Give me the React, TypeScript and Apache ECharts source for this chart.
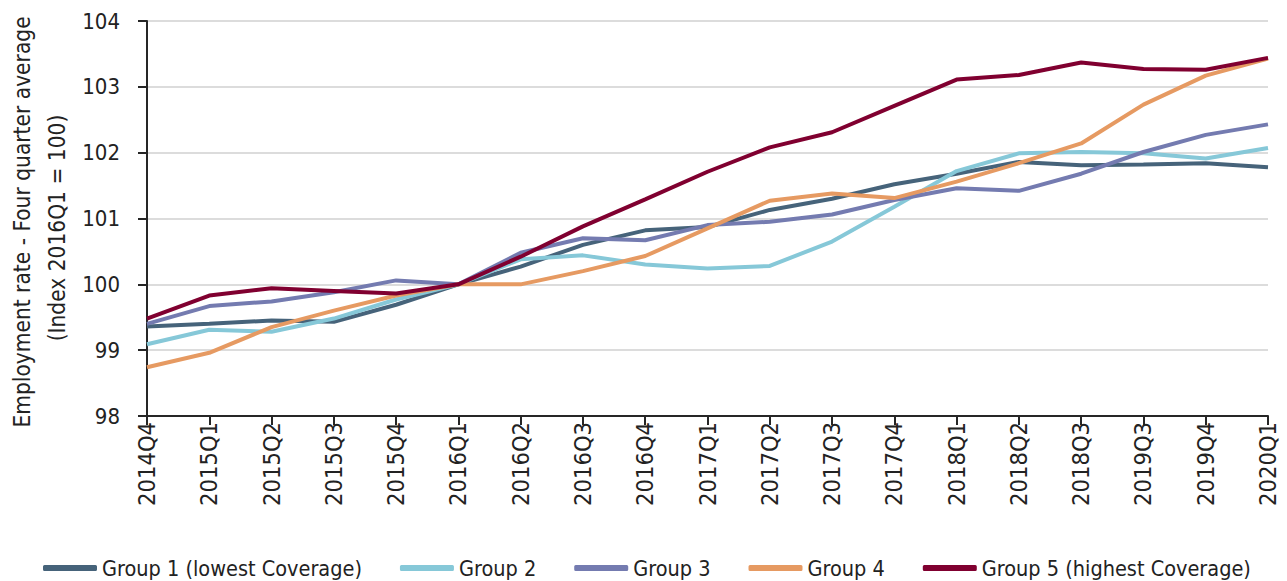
import React, { useEffect, useRef } from "react";
import * as echarts from "echarts";

const categories = [
  "2014Q4", "2015Q1", "2015Q2", "2015Q3", "2015Q4", "2016Q1", "2016Q2", "2016Q3", "2016Q4",
  "2017Q1", "2017Q2", "2017Q3", "2017Q4", "2018Q1", "2018Q2", "2018Q3", "2019Q3", "2019Q4", "2020Q1",
];

const group1 = [99.36, 99.40, 99.45, 99.43, 99.69, 100.0, 100.27, 100.60, 100.82, 100.87, 101.13, 101.30, 101.52, 101.68, 101.86, 101.81, 101.82, 101.84, 101.78];
const group2 = [99.09, 99.31, 99.28, 99.48, 99.77, 100.0, 100.38, 100.44, 100.30, 100.24, 100.28, 100.65, 101.18, 101.72, 101.99, 102.01, 101.99, 101.91, 102.07];
const group3 = [99.40, 99.67, 99.74, 99.88, 100.06, 100.0, 100.48, 100.70, 100.67, 100.90, 100.95, 101.06, 101.28, 101.46, 101.42, 101.68, 102.01, 102.27, 102.43];
const group4 = [98.74, 98.96, 99.35, 99.60, 99.83, 100.0, 100.0, 100.20, 100.43, 100.85, 101.27, 101.38, 101.31, 101.56, 101.84, 102.14, 102.73, 103.17, 103.43];
const group5 = [99.48, 99.83, 99.94, 99.90, 99.86, 100.0, 100.42, 100.88, 101.29, 101.71, 102.08, 102.31, 102.71, 103.11, 103.18, 103.37, 103.27, 103.26, 103.44];

const seriesNames = [
  "Group 1 (lowest Coverage)",
  "Group 2",
  "Group 3",
  "Group 4",
  "Group 5 (highest Coverage)",
];
const seriesData = [group1, group2, group3, group4, group5];
const colors = ["#46637a", "#86c8d8", "#747bb0", "#e69a62", "#800030"];

const yTitle1 = "Employment rate - Four quarter average";
const yTitle2 = "(Index 2016Q1 = 100)";

const FONT = "'DejaVu Sans Condensed', 'Liberation Sans Narrow', sans-serif";

export default function App() {
  const ref = useRef<HTMLDivElement>(null);
  useEffect(() => {
    if (!ref.current) return;
    const chart = echarts.init(ref.current, undefined, { renderer: "svg" });
    chart.setOption({
      animation: false,
      backgroundColor: "#ffffff",
      textStyle: { fontFamily: FONT },
      grid: { left: 147, right: 19, top: 21, bottom: 165, containLabel: false },
      legend: {
        top: 552,
        left: 38,
        icon: "roundRect",
        itemWidth: 54,
        itemHeight: 6,
        itemGap: 38,
        textStyle: { fontFamily: FONT, fontSize: 21.5, color: "#222" },
        data: seriesNames,
      },
      graphic: [
        {
          type: "text",
          x: 22,
          y: 222,
          rotation: Math.PI / 2,
          style: {
            text: yTitle1,
            fontFamily: FONT,
            fontSize: 22.5,
            fill: "#222",
            align: "center",
            verticalAlign: "middle",
          },
        },
        {
          type: "text",
          x: 57,
          y: 228,
          rotation: Math.PI / 2,
          style: {
            text: yTitle2,
            fontFamily: FONT,
            fontSize: 22.5,
            fill: "#222",
            align: "center",
            verticalAlign: "middle",
          },
        },
      ],
      xAxis: {
        type: "category",
        data: categories,
        boundaryGap: false,
        axisLine: { show: true, lineStyle: { color: "#262626", width: 2 } },
        axisTick: { show: true, alignWithLabel: true, length: 9, lineStyle: { color: "#262626", width: 2 } },
        axisLabel: {
          rotate: 90,
          interval: 0,
          margin: 6,
          fontFamily: FONT,
          fontSize: 23.5,
          color: "#222",
        },
        splitLine: { show: false },
      },
      yAxis: {
        type: "value",
        min: 98,
        max: 104,
        interval: 1,
        axisLine: { show: true, lineStyle: { color: "#262626", width: 2 } },
        axisTick: { show: true, length: 9, lineStyle: { color: "#262626", width: 2 } },
        axisLabel: { margin: 27, fontFamily: FONT, fontSize: 22, color: "#222" },
        splitLine: { show: true, lineStyle: { color: "#dcdcdc", width: 2 } },
      },
      series: seriesNames.map((name, i) => ({
        name,
        type: "line",
        data: seriesData[i],
        showSymbol: false,
        symbol: "none",
        lineStyle: { color: colors[i], width: 4 },
        itemStyle: { color: colors[i] },
      })),
    });
    return () => chart.dispose();
  }, []);
  return (
    <div
      ref={ref}
      style={{ position: "fixed", left: 0, top: 0, width: 1287, height: 581, background: "#fff" }}
    />
  );
}
